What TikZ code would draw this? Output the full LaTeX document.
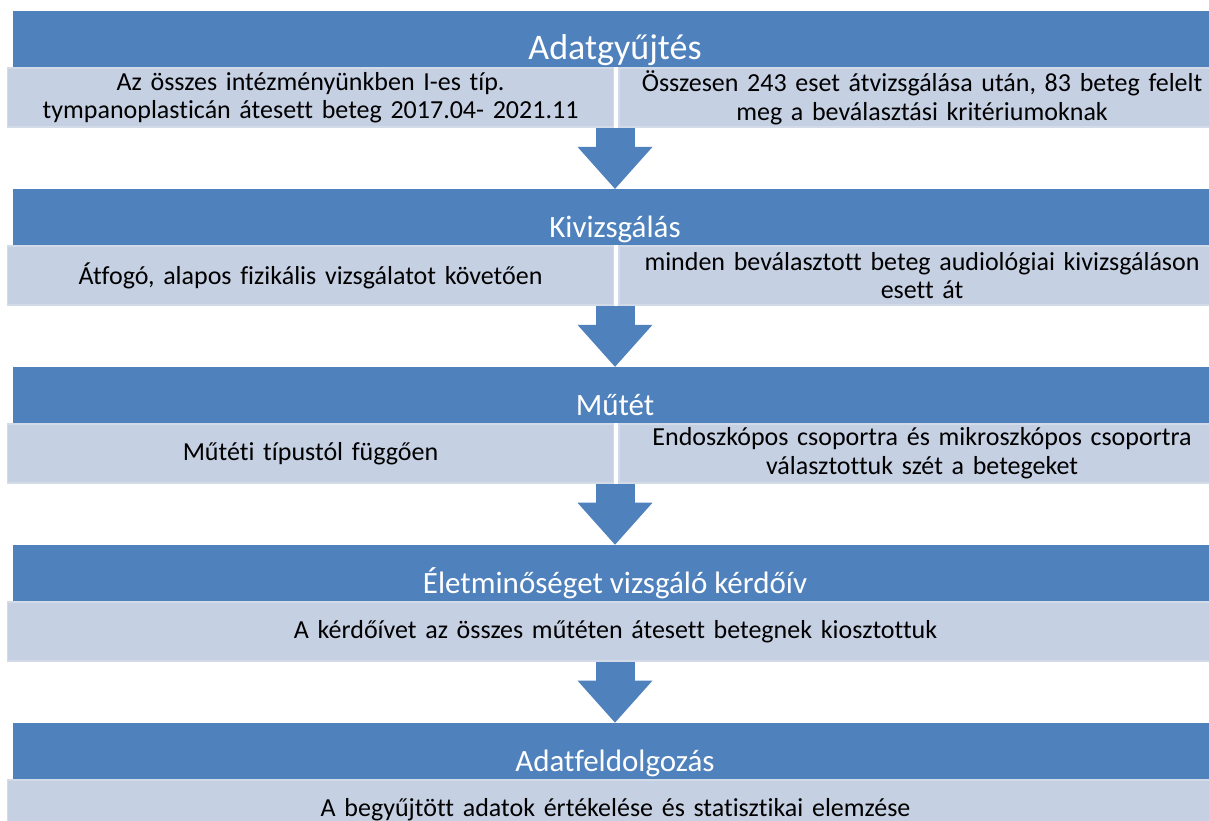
\documentclass[tikz,border=0pt]{standalone}
\usepackage{fontspec}
\setmainfont{Carlito}[Ligatures=NoCommon]
\usetikzlibrary{arrows.meta,positioning,calc}
\definecolor{Bar}{HTML}{4F81BD}
\definecolor{Cell}{HTML}{C6D0E3}
\definecolor{CellRim}{HTML}{D3DAE8}
\tikzset{
 stage/.style={fill=Bar,text=white,inner sep=0pt,minimum width=1204pt,
   text height=48.5pt,text depth=7.5pt,font=\fontsize{31}{36}\selectfont},
 cell/.style={fill=Cell,draw=CellRim,line width=1.5pt,inner sep=0pt,
   minimum height=59pt,align=center,font=\fontsize{26}{28.5}\selectfont},
 half/.style={cell,minimum width=606pt,text width=600pt},
 whole/.style={cell,minimum width=1216pt,text width=1200pt},
 flow/.style={line width=39pt,draw=Bar,
   -{Triangle[length=42pt 0 0,width=75pt 0 0,line width=0pt]}}
}

\begin{document}
\begin{tikzpicture}[x=1pt,y=1pt]
\useasboundingbox[fill=white] (0,0) rectangle (1209,-821);
% stage 1
\node[stage,font=\fontsize{36}{40}\selectfont,anchor=north] (h1) at (615,-11) {Adatgyűjtés};
\node[half,below=0pt of h1.south west,anchor=north west,xshift=-6pt] (a1) {Az összes intézményünkben I-es típ.\\ tympanoplasticán átesett beteg 2017.04- 2021.11};
\node[half,right=4pt of a1] (b1) {Összesen 243 eset átvizsgálása után, 83 beteg felelt\\ meg a beválasztási kritériumoknak};
% stage 2
\node[stage,below=61pt of a1.south west,anchor=north west,xshift=6pt] (h2) {Kivizsgálás};
\node[half,below=0pt of h2.south west,anchor=north west,xshift=-6pt] (a2) {Átfogó, alapos fizikális vizsgálatot követően};
\node[half,right=4pt of a2] (b2) {minden beválasztott beteg audiológiai kivizsgáláson\\ esett át};
% stage 3
\node[stage,below=61pt of a2.south west,anchor=north west,xshift=6pt] (h3) {Műtét};
\node[half,below=0pt of h3.south west,anchor=north west,xshift=-6pt] (a3) {Műtéti típustól függően};
\node[half,right=4pt of a3] (b3) {Endoszkópos csoportra és mikroszkópos csoportra\\ választottuk szét a betegeket};
% stage 4
\node[stage,below=61pt of a3.south west,anchor=north west,xshift=6pt] (h4) {Életminőséget vizsgáló kérdőív};
\node[whole,below=0pt of h4.south west,anchor=north west,xshift=-6pt] (a4) {A kérdőívet az összes műtéten átesett betegnek kiosztottuk};
% stage 5
\node[stage,below=61pt of a4.south west,anchor=north west,xshift=6pt] (h5) {Adatfeldolgozás};
\node[whole,below=0pt of h5.south west,anchor=north west,xshift=-6pt] (a5) {A begyűjtött adatok értékelése és statisztikai elemzése};
% arrows
\draw[flow] (h2.north |- a1.south) -- (h2.north);
\draw[flow] (h3.north |- a2.south) -- (h3.north);
\draw[flow] (h4.north |- a3.south) -- (h4.north);
\draw[flow] (h5.north |- a4.south) -- (h5.north);
\end{tikzpicture}
\end{document}
